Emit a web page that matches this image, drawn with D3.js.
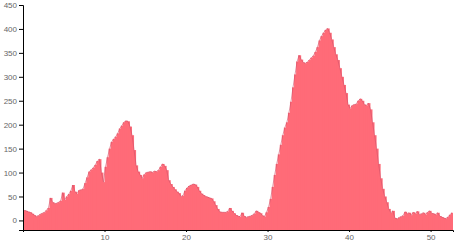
<!DOCTYPE html>
<html>
<head>
<meta charset="utf-8">
<script src="https://cdn.jsdelivr.net/npm/d3@7"></script>
<style>
  body { margin: 0; background: #fff; }
  .axis text { font-family: "Liberation Sans", Arial, sans-serif; font-size: 8px; fill: #666; }
  .axis path, .axis line { stroke: #000; }
</style>
</head>
<body>
<svg id="chart" width="456" height="246"></svg>
<script>
// sample step along x (units)
const STEP = 0.25;

// counts, one per 0.25 step starting at x = 0
const values = [
  21, 20, 18, 17, 14, 11, 8, 10, 13, 15, 17, 21, 26, 47, 38, 35,
  36, 38, 41, 58, 43, 50, 55, 62, 74, 60, 56, 63, 64, 66, 78, 90,
  102, 106, 110, 116, 124, 128, 100, 80, 112, 132, 150, 164, 170, 175, 182, 192,
  198, 205, 208, 207, 196, 178, 147, 115, 102, 95, 88, 96, 100, 101, 102, 100,
  103, 102, 105, 112, 118, 114, 105, 84, 76, 70, 65, 60, 57, 50, 52, 62,
  68, 72, 74, 76, 75, 70, 62, 56, 53, 50, 49, 47, 46, 40, 32, 24,
  18, 17, 17, 17, 19, 26, 20, 15, 11, 9, 8, 16, 9, 6, 8, 9,
  11, 14, 20, 17, 15, 10, 8, 17, 28, 45, 70, 95, 118, 138, 158, 178,
  194, 205, 225, 248, 278, 305, 332, 345, 336, 330, 328, 331, 335, 340, 344, 352,
  362, 376, 385, 392, 398, 401, 392, 378, 362, 347, 335, 318, 300, 283, 266, 242,
  234, 240, 242, 243, 250, 254, 250, 242, 240, 245, 232, 205, 178, 150, 118, 88,
  66, 50, 38, 24, 16, 20, 5, 3, 6, 8, 10, 18, 14, 16, 11, 17,
  14, 19, 12, 14, 16, 12, 17, 20, 15, 14, 12, 16, 9, 7, 5, 4,
  7, 12, 16
];

const xTicks = [10, 20, 30, 40, 50];
const yTicks = [0, 50, 100, 150, 200, 250, 300, 350, 400, 450];

const data = values.map((v, i) => ({ x: i * STEP, v }));

const svg = d3.select("#chart");

// ─── Scales ───
const x = d3.scaleLinear().domain([0, 52.75]).range([23, 453]);
const y = d3.scaleLinear().domain([-20, 450]).range([230, 5]);

// ─── Bars (1px overlap so the fill reads solid) ───
svg.append("g")
  .selectAll("rect")
  .data(data)
  .join("rect")
  .attr("x", (d) => x(d.x))
  .attr("width", (d, i) =>
    x(d.x + STEP) - x(d.x) + (i < data.length - 1 ? 1 : 0))
  .attr("y", (d) => y(d.v))
  .attr("height", (d) => y(-20) - y(d.v))
  .attr("fill", "#ff6b78");

// top edge
svg.append("path")
  .datum(data)
  .attr("fill", "none")
  .attr("stroke", "#d0506a")
  .attr("stroke-width", 0.6)
  .attr("d", d3.line().x((d) => x(d.x + STEP / 2)).y((d) => y(d.v)));

// ─── Axes ───
svg.append("g")
  .attr("class", "axis")
  .attr("transform", `translate(0,${y(-20)})`)
  .call(d3.axisBottom(x).tickValues(xTicks).tickSizeOuter(0).tickSize(2).tickPadding(2));

svg.append("g")
  .attr("class", "axis")
  .attr("transform", `translate(${x(0)},0)`)
  .call(d3.axisLeft(y).tickValues(yTicks).tickSizeOuter(0).tickSize(4).tickPadding(2));
</script>
</body>
</html>
